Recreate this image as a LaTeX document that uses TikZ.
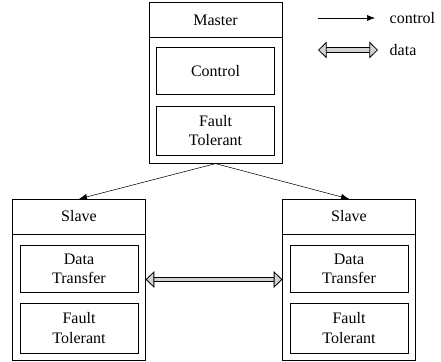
\documentclass[tikz,border=0pt]{standalone}
\usepackage{fontspec}
\setmainfont{Liberation Serif}
\usetikzlibrary{arrows.meta}
\begin{document}
\begin{tikzpicture}[
x=0.75pt, y=-0.75pt,
font=\fontsize{12}{14.5}\selectfont,
outerbox/.style={rectangle, draw, thin, minimum width=99.5pt, minimum height=120.5pt},
headbox/.style={rectangle, draw, thin, minimum width=99.5pt, minimum height=26pt},
unitbox/.style={rectangle, draw, thin, align=center, minimum width=88.5pt, minimum height=35pt},
ctrl/.style={-{Latex[length=6pt,width=4.5pt]}, thin},
data/.style={<->, >={Triangle[open, fill=gray!35, length=6.5pt, width=12.5pt]}, double=gray!35, double distance=2.8pt, line width=0.6pt},
]
\useasboundingbox (0,0) rectangle (441,361);
%nodes
\node[outerbox](master) at (215.5, 83) {};
\node[headbox](mhead) at (215.5, 20) {Master};
\node[unitbox](mctrl) at (215.5, 71) {Control};
\node[unitbox, minimum height=37pt](mfault) at (215.5, 130.5) {Fault\\Tolerant};
\node[outerbox](slaveL) at (79, 279.5) {};
\node[headbox](lhead) at (79, 216.5) {Slave};
\node[unitbox](ldata) at (79, 269) {Data\\Transfer};
\node[unitbox, minimum height=37.5pt](lfault) at (79, 328) {Fault\\Tolerant};
\node[outerbox](slaveR) at (349, 279.5) {};
\node[headbox](rhead) at (349, 216.5) {Slave};
\node[unitbox](rdata) at (349, 269) {Data\\Transfer};
\node[unitbox, minimum height=37.5pt](rfault) at (349, 328) {Fault\\Tolerant};
%legend
\coordinate (c1) at (318, 18);
\coordinate (c2) at (375, 18);
\coordinate (d1) at (318, 50);
\coordinate (d2) at (378, 50);
\node[anchor=west](lctrl) at (385, 18) {control};
\node[anchor=west](ldat) at (385, 50) {data};
%connections
\draw[ctrl] (master.south) -- (slaveL.north);
\draw[ctrl] (master.south) -- (slaveR.north);
\draw[data] (slaveL.east) -- (slaveR.west);
\draw[ctrl] (c1) -- (c2);
\draw[data] (d1) -- (d2);
\end{tikzpicture}
\end{document}
